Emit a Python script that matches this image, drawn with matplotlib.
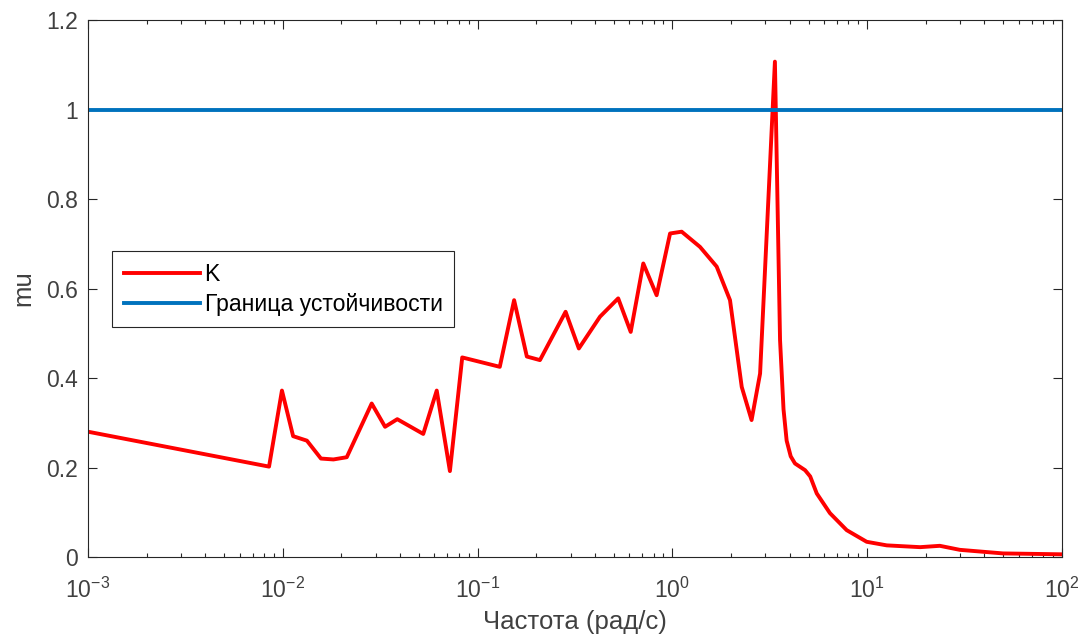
import numpy as np
import matplotlib.pyplot as plt
from matplotlib.ticker import LogLocator, NullFormatter

plt.rcParams['font.family'] = ['Liberation Sans', 'DejaVu Sans']
plt.rcParams['mathtext.fontset'] = 'custom'
plt.rcParams['mathtext.rm'] = 'Liberation Sans'

# mu of K versus frequency
freq = [0.001, 0.0085, 0.0099, 0.0113, 0.0133, 0.0157, 0.0182, 0.0213, 0.0286,
        0.0335, 0.0387, 0.0526, 0.0617, 0.0721, 0.0834, 0.130, 0.154, 0.179,
        0.209, 0.283, 0.331, 0.425, 0.527, 0.611, 0.709, 0.830, 0.973, 1.116,
        1.386, 1.688, 1.976, 2.27, 2.55, 2.82, 3.36, 3.57, 3.72, 3.86, 4.05, 4.26,
        4.80, 5.10, 5.51, 6.44, 7.85, 9.94, 12.6, 18.7, 23.6, 29.9, 49.8, 100.0]
mu_k = [0.280, 0.202, 0.372, 0.270, 0.260, 0.220, 0.218, 0.223, 0.343,
        0.291, 0.308, 0.275, 0.372, 0.192, 0.446, 0.425, 0.574, 0.448,
        0.440, 0.548, 0.466, 0.537, 0.578, 0.503, 0.656, 0.585, 0.723, 0.727,
        0.693, 0.649, 0.574, 0.380, 0.306, 0.410, 1.107, 0.485, 0.330, 0.260, 0.225, 0.209,
        0.194, 0.180, 0.142, 0.098, 0.060, 0.034, 0.026, 0.022, 0.025, 0.016, 0.008, 0.006]
bound_x = [1e-3, 1e2]
bound_y = [1.0, 1.0]

fig = plt.figure(figsize=(10.81, 6.42), dpi=100)
ax = fig.add_axes([0.0814, 0.1324, 0.901, 0.8364])

ax.plot(freq, mu_k, color=(1, 0, 0), lw=2.8, label='K')
ax.plot(bound_x, bound_y, color='#0072BD', lw=2.8, label='Граница устойчивости')

ax.set_xscale('log')
ax.set_xlim(1e-3, 1e2)
ax.set_ylim(0, 1.2)
ax.set_yticks([0, 0.2, 0.4, 0.6, 0.8, 1.0, 1.2])
ax.set_yticklabels(['0', '0.2', '0.4', '0.6', '0.8', '1', '1.2'])
ax.xaxis.set_minor_locator(LogLocator(base=10, subs=np.arange(2, 10), numticks=20))
ax.xaxis.set_minor_formatter(NullFormatter())

grey = '#262626'
ax.tick_params(which='both', direction='in', top=True, right=True, colors=grey,
               labelcolor='#404040', labelsize=16.5, width=0.8)
ax.tick_params(which='major', length=6.5)
ax.tick_params(which='minor', length=3)
ax.tick_params(axis='y', pad=7)
ax.tick_params(axis='x', pad=15)
for s in ax.spines.values():
    s.set_color(grey)
    s.set_linewidth(0.8)

ax.set_xlabel('Частота (рад/с)', fontsize=18.5, color='#404040', labelpad=5)
ax.set_ylabel('mu', fontsize=18.5, color='#404040', labelpad=8)

leg = ax.legend(loc='upper left', bbox_to_anchor=(0.025, 0.569), fontsize=16.6,
                fancybox=False, edgecolor=grey, framealpha=1, handlelength=3.3,
                handletextpad=0.2, borderpad=0.5, labelspacing=0.3, borderaxespad=0)
leg.get_frame().set_linewidth(0.8)

fig.savefig('out.png', dpi=100)
